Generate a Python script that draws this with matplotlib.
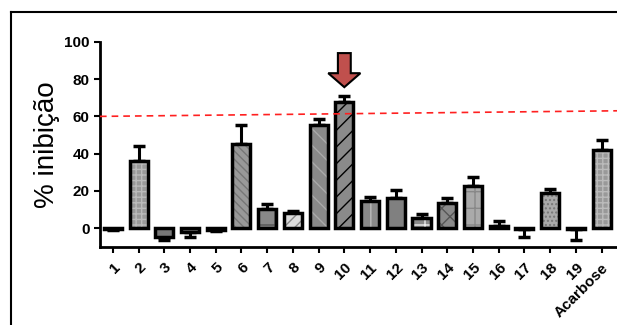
import matplotlib
matplotlib.use("Agg")
import matplotlib.pyplot as plt
from matplotlib.lines import Line2D

plt.rcParams['font.family'] = ['Liberation Sans', 'DejaVu Sans']

labels = ["1", "2", "3", "4", "5", "6", "7", "8", "9", "10",
          "11", "12", "13", "14", "15", "16", "17", "18", "19", "Acarbose"]
values = [-0.6, 35.8, -5.0, -2.2, -0.9, 45.2, 10.2, 7.9, 55.2, 67.7,
          14.7, 16.0, 5.6, 13.6, 22.6, 1.3, -0.4, 19.0, -0.4, 42.1]
errors = [0.4, 8.5, 1.2, 2.5, 0.5, 10.4, 2.9, 1.2, 3.6, 3.4,
          2.0, 4.2, 1.9, 2.4, 4.8, 2.5, 4.6, 2.0, 5.9, 5.0]
threshold = [60, 63]

faces = ['#555555', '#999999', '#777777', '#888888', '#666666', '#999999', '#888888', '#dddddd',
         '#8a8a8a', '#8a8a8a', '#8a8a8a', '#808080', '#8a8a8a', '#8a8a8a', '#aaaaaa', '#666666',
         '#666666', '#aaaaaa', '#777777', '#999999']
hatches = [None, '+++', None, None, None, '\\\\\\\\', '+', '///', '\\\\', '//', '||', None,
           '+', 'xx', '-|', None, None, '....', None, '+++']
hatch_cols = ['#555555', '#bbbbbb', '#777777', '#888888', '#666666', '#777777', '#555555', '#888888',
              '#aaaaaa', '#000000', '#bbbbbb', '#808080', '#eeeeee', '#555555', '#888888', '#666666',
              '#666666', '#777777', '#777777', '#bbbbbb']

fig = plt.figure(figsize=(6.17, 3.25), dpi=100)
ax = fig.add_axes([0.162, 0.241, 0.838, 0.630])

x = list(range(1, len(values) + 1))
# fill + hatch layer, then black outline on top
for xi, v, f, h, hc in zip(x, values, faces, hatches, hatch_cols):
    ax.bar(xi, v, width=0.7, color=f, hatch=h, edgecolor=hc, linewidth=0, zorder=2)
ax.bar(x, values, width=0.7, facecolor='none', edgecolor='black', linewidth=2.5, zorder=3)

lower = [e if v < 0 else 0 for v, e in zip(values, errors)]
upper = [e if v >= 0 else 0 for v, e in zip(values, errors)]
ax.errorbar(x, values, yerr=[lower, upper], fmt='none', ecolor='black',
            elinewidth=2.2, capsize=4, capthick=2.5, zorder=1)

ax.plot([0.5, 20.6], threshold, color='#ff2020', linestyle=(0, (4, 3)), linewidth=1.2, zorder=4,
        clip_on=False)

ax.arrow(10, 94, 0, -18.3, width=0.5, head_width=1.25, head_length=7.5,
         length_includes_head=True, facecolor='#c0504d', edgecolor='black', linewidth=1.5,
         clip_on=False, zorder=5)

ax.set_xlim(0.5, 20.6)
ax.set_ylim(-10, 100)
ax.set_yticks([0, 20, 40, 60, 80, 100])
ax.set_xticks(x)
ax.set_xticklabels(labels, rotation=45, ha='right', rotation_mode='anchor', fontweight='bold')
for t in ax.get_yticklabels():
    t.set_fontweight('bold')
ax.tick_params(axis='both', labelsize=11, width=1.5, length=4, direction='out')
ax.tick_params(axis='x', pad=6)
ax.spines['top'].set_visible(False)
ax.spines['right'].set_visible(False)
ax.spines['left'].set_linewidth(2)
ax.spines['bottom'].set_linewidth(2)
ax.set_ylabel('% inibição', fontsize=20, labelpad=3)

# outer frame (cut by the image edges)
fig.add_artist(Line2D([11 / 617, 11 / 617], [0, 1 - 12 / 325], color='black', linewidth=1.5))
fig.add_artist(Line2D([11 / 617, 1], [1 - 12 / 325, 1 - 12 / 325], color='black', linewidth=1.5))

fig.savefig('out.png', dpi=100)
